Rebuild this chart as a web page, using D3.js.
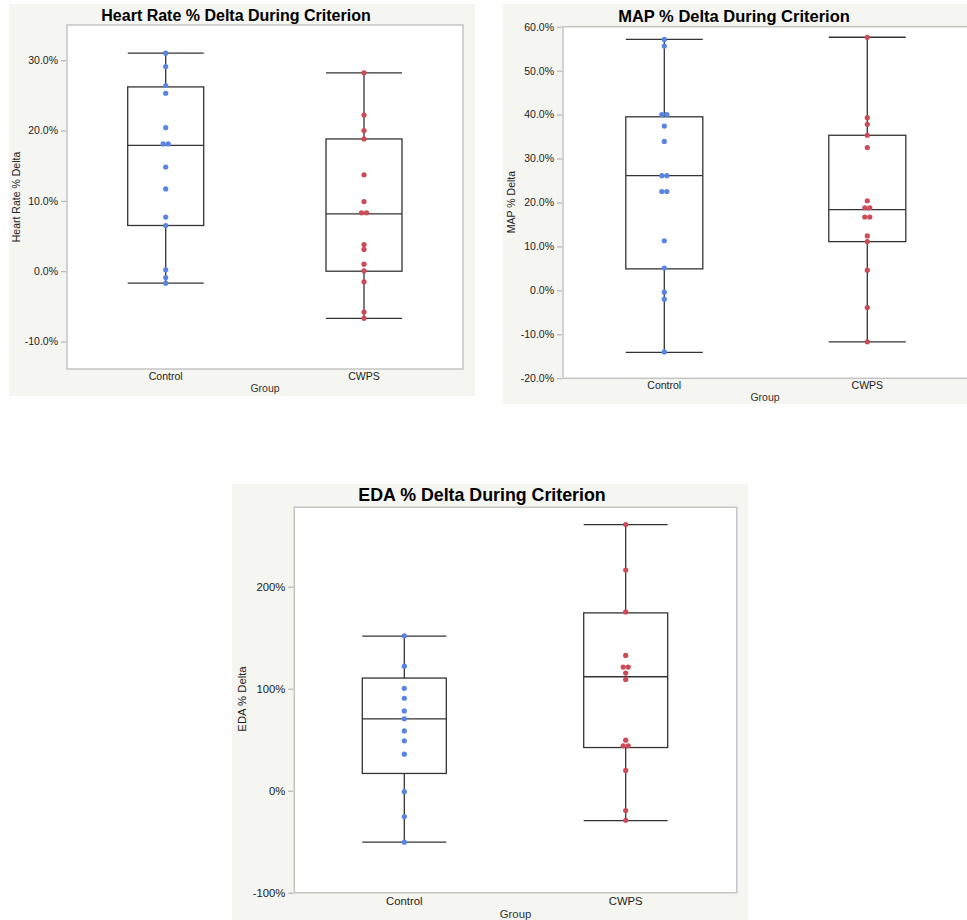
<!DOCTYPE html>
<html>
<head>
<meta charset="utf-8">
<script src="https://cdn.jsdelivr.net/npm/d3@7"></script>
<style>
  body { margin: 0; background: #fff; }
  svg text { font-family: "Liberation Sans", Arial, sans-serif; }
</style>
</head>
<body>
<svg id="chart" width="967" height="920"></svg>
<script>
// Groups shown on each x axis
const groups = ["Control", "CWPS"];

// Heart rate % delta, raw points (percent)
const hrControl = [31.0, 29.1, 26.4, 25.3, 20.4, 18.1, 18.1, 14.8, 11.7, 7.7, 6.5, 0.2, -0.9, -1.7];
const hrCwps = [28.2, 22.2, 20.0, 18.8, 13.7, 9.9, 8.3, 8.3, 3.8, 3.1, 1.0, 0.05, -1.5, -5.8, -6.7];
// box stats [whiskerLow, q1, median, q3, whiskerHigh]
const hrBoxControl = [-1.7, 6.5, 17.9, 26.2, 31.0];
const hrBoxCwps = [-6.7, 0.0, 8.15, 18.8, 28.2];
const hrTicks = [-10, 0, 10, 20, 30];

// MAP % delta
const mapControl = [57.1, 55.6, 40.0, 40.0, 37.4, 33.9, 26.1, 26.1, 22.5, 22.5, 11.3, 5.1, -0.4, -2.0, -14.0];
const mapCwps = [57.6, 39.3, 37.8, 35.3, 32.5, 20.4, 18.8, 18.8, 16.7, 16.7, 12.4, 11.1, 4.6, -3.9, -11.7];
const mapBoxControl = [-14.1, 4.9, 26.1, 39.5, 57.1];
const mapBoxCwps = [-11.7, 11.1, 18.4, 35.3, 57.6];
const mapTicks = [-20, -10, 0, 10, 20, 30, 40, 50, 60];

// EDA % delta
const edaControl = [151.8, 122.1, 100.3, 90.6, 78.2, 70.4, 58.6, 48.9, 35.8, -1.0, -25.4, -50.5];
const edaCwps = [260.9, 216.3, 175.2, 132.6, 121.2, 121.2, 115.3, 109.1, 49.5, 44.0, 44.0, 19.9, -19.5, -29.0];
const edaBoxControl = [-50.5, 16.9, 70.4, 110.4, 151.5];
const edaBoxCwps = [-29.3, 42.3, 111.7, 174.3, 260.9];
const edaTicks = [-100, 0, 100, 200];

const colors = {Control: "#5a84e2", CWPS: "#cc4b57"};

const svg = d3.select("#chart");

drawPanel({
  bg: [9, 4, 466, 392],
  frame: {left: 67, top: 25, right: 463, bottom: 369},
  domain: [-13.9, 35],
  ticks: hrTicks,
  fmt: (d) => d.toFixed(1) + "%",
  title: "Heart Rate % Delta During Criterion",
  titleX: 236, titleY: 21, titleSize: 16,
  textSize: 10.5,
  yLabel: "Heart Rate % Delta", yLabelX: 20, yLabelY: 197,
  centers: [165.7, 364], boxWidth: 76,
  points: [hrControl, hrCwps],
  boxes: [hrBoxControl, hrBoxCwps],
  xLabelY: 380, groupY: 392
});

drawPanel({
  bg: [503, 4, 470, 400],
  frame: {left: 563, top: 26.7, right: 972, bottom: 378.3},
  domain: [-20, 60],
  ticks: mapTicks,
  fmt: (d) => d.toFixed(1) + "%",
  title: "MAP % Delta During Criterion",
  titleX: 734, titleY: 22, titleSize: 16.5,
  textSize: 10.5,
  yLabel: "MAP % Delta", yLabelX: 515, yLabelY: 202,
  centers: [664.3, 867.3], boxWidth: 77,
  points: [mapControl, mapCwps],
  boxes: [mapBoxControl, mapBoxCwps],
  xLabelY: 389, groupY: 401
});

drawPanel({
  bg: [232, 484, 516, 440],
  frame: {left: 294.3, top: 507.3, right: 736.7, bottom: 892.7},
  domain: [-100, 277.8],
  ticks: edaTicks,
  fmt: (d) => d + "%",
  title: "EDA % Delta During Criterion",
  titleX: 482, titleY: 501, titleSize: 17.8,
  textSize: 11.3,
  yLabel: "EDA % Delta", yLabelX: 246, yLabelY: 699,
  centers: [404.3, 625.7], boxWidth: 84,
  points: [edaControl, edaCwps],
  boxes: [edaBoxControl, edaBoxCwps],
  xLabelY: 905, groupY: 918
});


// One box plot panel (background, frame, axes, boxes and points)
function drawPanel (p) {
  const g = svg.append("g");
  const f = p.frame;

  g.append("rect")
    .attr("x", p.bg[0]).attr("y", p.bg[1])
    .attr("width", p.bg[2]).attr("height", p.bg[3])
    .attr("fill", "#f5f5f1");

  g.append("rect")
    .attr("x", f.left).attr("y", f.top)
    .attr("width", f.right - f.left).attr("height", f.bottom - f.top)
    .attr("fill", "#fff")
    .attr("stroke", "#c4c4c4")
    .attr("stroke-width", 1.5);

  const y = d3.scaleLinear()
    .domain(p.domain)
    .range([f.bottom, f.top]);

  // band positions come from the centres
  const x = d3.scaleOrdinal()
    .domain(groups)
    .range(p.centers);

  // Y axis
  const yAxis = d3.axisLeft(y)
    .tickValues(p.ticks)
    .tickFormat(p.fmt)
    .tickSize(5)
    .tickPadding(3);
  const ya = g.append("g")
    .attr("transform", `translate(${f.left - 1}, 0)`)
    .call(yAxis);
  ya.select(".domain").remove();
  ya.selectAll("line").attr("stroke", "#aaa");
  ya.selectAll("text").attr("font-size", p.textSize).attr("fill", "#222");

  // X axis labels
  g.selectAll(".xlab")
    .data(groups)
    .enter().append("text")
    .attr("x", (d) => x(d))
    .attr("y", p.xLabelY)
    .attr("text-anchor", "middle")
    .attr("font-size", p.textSize)
    .attr("fill", "#222")
    .text((d) => d);

  g.append("text")
    .attr("x", (f.left + Math.min(f.right, 967)) / 2)
    .attr("y", p.groupY)
    .attr("text-anchor", "middle")
    .attr("font-size", p.textSize)
    .attr("fill", "#333")
    .text("Group");

  g.append("text")
    .attr("transform", `translate(${p.yLabelX}, ${p.yLabelY}) rotate(-90)`)
    .attr("text-anchor", "middle")
    .attr("font-size", p.textSize)
    .attr("fill", "#222")
    .text(p.yLabel);

  g.append("text")
    .attr("x", p.titleX)
    .attr("y", p.titleY)
    .attr("text-anchor", "middle")
    .attr("font-size", p.titleSize)
    .attr("font-weight", "bold")
    .attr("fill", "#000")
    .text(p.title);

  // Boxes
  groups.forEach((grp, i) => {
    const b = p.boxes[i];
    const cx = x(grp);
    const w = p.boxWidth;
    const bg = g.append("g")
      .attr("stroke", "#333")
      .attr("stroke-width", 1.3)
      .attr("fill", "none");

    bg.append("line")
      .attr("x1", cx).attr("x2", cx)
      .attr("y1", y(b[0])).attr("y2", y(b[1]));
    bg.append("line")
      .attr("x1", cx).attr("x2", cx)
      .attr("y1", y(b[3])).attr("y2", y(b[4]));
    [b[0], b[4]].forEach((v) => {
      bg.append("line")
        .attr("x1", cx - w / 2).attr("x2", cx + w / 2)
        .attr("y1", y(v)).attr("y2", y(v));
    });
    bg.append("rect")
      .attr("x", cx - w / 2).attr("y", y(b[3]))
      .attr("width", w).attr("height", y(b[1]) - y(b[3]));
    bg.append("line")
      .attr("x1", cx - w / 2).attr("x2", cx + w / 2)
      .attr("y1", y(b[2])).attr("y2", y(b[2]));

    // points; equal values are set side by side
    const pts = p.points[i];
    const counts = d3.rollup(pts, (v) => v.length, (d) => d);
    const seen = new Map();
    const placed = pts.map((v) => {
      const n = counts.get(v);
      const k = seen.get(v) || 0;
      seen.set(v, k + 1);
      return {v: v, off: (k - (n - 1) / 2) * 5};
    });
    g.selectAll(null)
      .data(placed)
      .enter().append("circle")
      .attr("cx", (d) => cx + d.off)
      .attr("cy", (d) => y(d.v))
      .attr("r", 2.6)
      .attr("fill", colors[grp]);
  });
}
</script>
</body>
</html>
